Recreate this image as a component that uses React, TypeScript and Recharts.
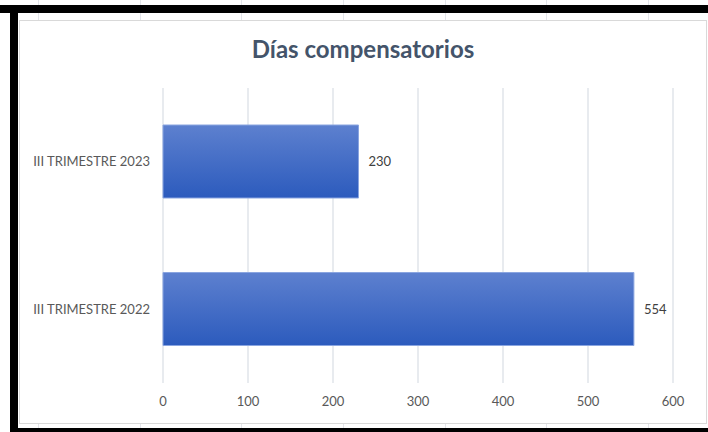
import { BarChart, Bar, XAxis, YAxis, CartesianGrid, LabelList } from 'recharts';

const categories = ['III TRIMESTRE 2023', 'III TRIMESTRE 2022'];
const dias = [230, 554];
const xTicks = [0, 100, 200, 300, 400, 500, 600];
const cellLines = [38, 140, 241, 343, 445, 546, 648];

const data = categories.map((name, i) => ({ name, value: dias[i] }));

const FONT = 'Lato, "Open Sans", sans-serif';

export default function App() {
  return (
    <div
      style={{
        position: 'fixed',
        left: 0,
        top: 0,
        width: 708,
        height: 432,
        background: '#fff',
        overflow: 'hidden',
        fontFamily: FONT,
      }}
    >
      {/* spreadsheet cell lines peeking out around the chart */}
      {cellLines.map((x) => (
        <div key={'t' + x} style={{ position: 'absolute', left: x, top: 0, width: 1, height: 20, background: '#e3e5ea' }} />
      ))}
      {cellLines.map((x) => (
        <div key={'b' + x} style={{ position: 'absolute', left: x, top: 423, width: 1, height: 9, background: '#e3e5ea' }} />
      ))}
      <div style={{ position: 'absolute', left: 0, top: 5, width: 708, height: 8, background: '#000' }} />
      <div style={{ position: 'absolute', left: 10, top: 5, width: 8, height: 427, background: '#000' }} />
      <div style={{ position: 'absolute', left: 10, top: 428, width: 698, height: 4, background: '#000' }} />
      {/* chart frame */}
      <div
        style={{
          position: 'absolute',
          left: 19,
          top: 20,
          width: 686,
          height: 402,
          border: '1px solid #d9d9d9',
        }}
      />
      <div
        style={{
          position: 'absolute',
          left: 20,
          top: 34,
          width: 686,
          textAlign: 'center',
          fontSize: 24,
          fontWeight: 700,
          color: '#44546a',
        }}
      >
        Días compensatorios
      </div>
      <div style={{ position: 'absolute', left: 0, top: 0 }}>
        <BarChart
          width={708}
          height={432}
          data={data}
          layout="vertical"
          margin={{ top: 88, right: 35, bottom: 19, left: 0 }}
        >
          <defs>
            <linearGradient id="barGrad" x1="0" y1="0" x2="0" y2="1">
              <stop offset="0%" stopColor="#5d80cf" />
              <stop offset="100%" stopColor="#2c5bbd" />
            </linearGradient>
          </defs>
          <CartesianGrid horizontal={false} stroke="#e1e4ea" strokeWidth={1.5} />
          <XAxis
            type="number"
            domain={[0, 600]}
            ticks={xTicks}
            axisLine={false}
            tickLine={false}
            tickMargin={8}
            height={30}
            tick={{ fill: '#595959', fontSize: 13, fontFamily: FONT }}
          />
          <YAxis
            type="category"
            dataKey="name"
            width={163}
            axisLine={false}
            tickLine={false}
            tickMargin={7}
            tick={{ fill: '#595959', fontSize: 13, fontFamily: FONT }}
          />
          <Bar
            dataKey="value"
            fill="url(#barGrad)"
            stroke="#8aa5e0"
            strokeWidth={1}
            barSize={73}
            isAnimationActive={false}
          >
            <LabelList
              dataKey="value"
              position="right"
              offset={10}
              fill="#404040"
              fontSize={13}
              fontFamily={FONT}
            />
          </Bar>
        </BarChart>
      </div>
    </div>
  );
}
